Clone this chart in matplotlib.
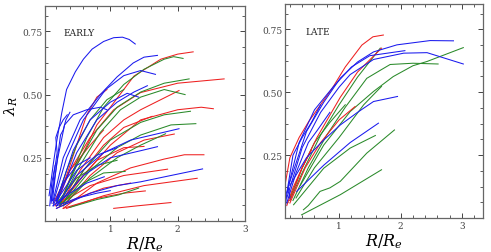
import matplotlib
matplotlib.use("Agg")
import matplotlib.pyplot as plt
from matplotlib.ticker import MultipleLocator

plt.rcParams['font.family'] = ['DejaVu Serif']
plt.rcParams['mathtext.fontset'] = 'dejavuserif'

# ---- EARLY panel: each curve is (R/Re list, lambda_R list) ----
early_blue = [
    ([0.09, 0.15, 0.20, 0.28, 0.35, 0.48, 0.60, 0.73, 0.90, 1.05, 1.18, 1.28, 1.37],
     [0.10, 0.22, 0.31, 0.43, 0.52, 0.59, 0.64, 0.68, 0.71, 0.725, 0.727, 0.718, 0.70]),
    ([0.15, 0.30, 0.55, 0.85, 1.10, 1.34, 1.50, 1.70], [0.08, 0.25, 0.40, 0.50, 0.57, 0.625, 0.648, 0.655]),
    ([0.15, 0.35, 0.60, 0.93, 1.20, 1.45, 1.67], [0.07, 0.25, 0.40, 0.52, 0.575, 0.595, 0.58]),
    ([0.20, 0.45, 0.70, 1.00, 1.25, 1.42], [0.08, 0.28, 0.40, 0.47, 0.505, 0.49]),
    ([0.20, 0.50, 0.80, 1.10, 1.35, 1.55], [0.07, 0.27, 0.40, 0.47, 0.51, 0.535]),
    ([0.12, 0.22, 0.32, 0.45, 0.65, 0.85, 0.95], [0.08, 0.25, 0.38, 0.42, 0.44, 0.45, 0.44]),
    ([0.12, 0.16, 0.21, 0.19, 0.24, 0.30, 0.36], [0.07, 0.18, 0.27, 0.33, 0.37, 0.40, 0.42]),
    ([0.14, 0.20, 0.26, 0.30, 0.34, 0.40], [0.08, 0.22, 0.34, 0.36, 0.40, 0.43]),
    ([0.20, 0.50, 0.90, 1.30, 1.70, 2.02], [0.06, 0.18, 0.27, 0.32, 0.345, 0.365]),
    ([0.20, 0.60, 1.00, 1.45, 1.70], [0.06, 0.18, 0.25, 0.278, 0.294]),
    ([0.20, 0.70, 1.10, 1.45, 1.90, 2.37], [0.05, 0.11, 0.14, 0.155, 0.18, 0.206]),
    ([0.15, 0.40, 0.65, 0.91], [0.06, 0.11, 0.15, 0.175]),
    ([0.20, 0.50, 0.80, 1.10], [0.08, 0.20, 0.26, 0.29]),
    ([0.15, 0.30, 0.50, 0.70], [0.06, 0.15, 0.22, 0.25]),
    ([0.10, 0.13, 0.18], [0.06, 0.15, 0.22]),
    ([0.20, 0.50, 0.80, 1.00], [0.06, 0.09, 0.11, 0.12]),
]
early_red = [
    ([0.25, 0.45, 0.60, 0.80, 1.00, 1.35, 1.75, 2.00, 2.23], [0.07, 0.20, 0.27, 0.38, 0.45, 0.573, 0.64, 0.66, 0.669]),
    ([0.20, 0.40, 0.70, 1.05, 1.45, 2.00, 2.69], [0.07, 0.20, 0.33, 0.44, 0.508, 0.545, 0.562]),
    ([0.25, 0.55, 0.90, 1.20, 1.45, 1.75, 2.02], [0.06, 0.20, 0.33, 0.40, 0.44, 0.48, 0.516]),
    ([0.25, 0.60, 1.00, 1.45, 2.00, 2.35, 2.53], [0.06, 0.18, 0.30, 0.40, 0.44, 0.45, 0.444]),
    ([0.30, 0.70, 1.10, 1.50, 1.95], [0.06, 0.18, 0.27, 0.32, 0.344]),
    ([0.30, 0.80, 1.30, 1.80, 2.10, 2.39], [0.05, 0.15, 0.21, 0.245, 0.262, 0.262]),
    ([0.25, 0.70, 1.20, 1.85], [0.07, 0.14, 0.18, 0.205]),
    ([0.35, 0.90, 1.50, 2.29], [0.05, 0.10, 0.14, 0.169]),
    ([0.30, 0.80, 1.20, 1.52], [0.05, 0.09, 0.11, 0.119]),
    ([1.05, 1.40, 1.90], [0.05, 0.06, 0.073]),
    ([0.30, 0.60, 0.90, 1.20, 1.62], [0.07, 0.20, 0.30, 0.37, 0.414]),
    ([0.18, 0.35, 0.50, 0.65, 0.80, 0.95], [0.06, 0.18, 0.30, 0.42, 0.49, 0.52]),
    ([0.20, 0.50, 0.80, 1.20, 1.50], [0.06, 0.15, 0.24, 0.29, 0.295]),
    ([0.15, 0.40, 0.70, 0.90], [0.07, 0.20, 0.30, 0.36]),
    ([0.20, 0.50, 0.90, 1.30], [0.05, 0.09, 0.13, 0.15]),
]
early_green = [
    ([0.25, 0.45, 0.65, 0.90, 1.20, 1.50, 1.80, 1.94, 2.08], [0.06, 0.20, 0.33, 0.45, 0.54, 0.60, 0.64, 0.65, 0.643]),
    ([0.25, 0.50, 0.80, 1.10, 1.45, 1.80, 2.17], [0.07, 0.22, 0.36, 0.45, 0.51, 0.545, 0.562]),
    ([0.25, 0.55, 0.85, 1.15, 1.45, 1.80, 2.11], [0.07, 0.22, 0.35, 0.44, 0.49, 0.52, 0.50]),
    ([0.30, 0.60, 1.00, 1.45, 1.80, 2.19], [0.07, 0.20, 0.32, 0.39, 0.42, 0.434]),
    ([0.30, 0.70, 1.10, 1.45, 1.90, 2.27], [0.07, 0.20, 0.29, 0.34, 0.38, 0.385]),
    ([0.30, 0.70, 1.10, 1.45, 1.82], [0.06, 0.17, 0.25, 0.30, 0.345]),
    ([0.25, 0.60, 0.90, 1.22], [0.06, 0.15, 0.19, 0.196]),
    ([0.40, 0.80, 1.12, 1.42], [0.054, 0.085, 0.103, 0.13]),
    ([0.20, 0.35, 0.50, 0.70, 0.95, 1.20], [0.08, 0.20, 0.30, 0.40, 0.48, 0.52]),
    ([0.20, 0.50, 0.80, 1.10], [0.07, 0.17, 0.22, 0.24]),
]

# ---- LATE panel ----
late_red = [
    ([0.12, 0.20, 0.35, 0.51, 0.89, 1.10, 1.37, 1.55, 1.72], [0.13, 0.24, 0.32, 0.385, 0.516, 0.60, 0.687, 0.72, 0.727]),
    ([0.20, 0.40, 0.64, 1.02, 1.30, 1.69], [0.07, 0.20, 0.32, 0.48, 0.58, 0.675]),
    ([0.20, 0.45, 0.70, 1.00, 1.26], [0.06, 0.20, 0.30, 0.39, 0.443]),
    ([0.15, 0.25, 0.40, 0.55], [0.05, 0.12, 0.20, 0.27]),
]
late_blue = [
    ([0.18, 0.47, 0.75, 1.02, 1.30, 1.56, 1.94, 2.48, 2.86], [0.13, 0.344, 0.46, 0.556, 0.62, 0.66, 0.688, 0.705, 0.704]),
    ([0.15, 0.40, 0.70, 1.00, 1.18, 1.56, 2.05, 2.43, 3.02], [0.08, 0.28, 0.42, 0.52, 0.57, 0.63, 0.655, 0.657, 0.612]),
    ([0.15, 0.35, 0.60, 0.90, 1.20, 1.50, 2.07], [0.10, 0.30, 0.43, 0.52, 0.60, 0.645, 0.665]),
    ([0.20, 0.47, 0.75, 1.02, 1.30, 1.56, 1.95], [0.13, 0.24, 0.31, 0.37, 0.42, 0.463, 0.483]),
    ([0.31, 0.75, 1.18, 1.64], [0.106, 0.21, 0.30, 0.377]),
    ([0.12, 0.13, 0.15, 0.18, 0.20], [0.0, 0.05, 0.10, 0.12, 0.08]),
    ([0.15, 0.25, 0.40, 0.55, 0.70], [0.10, 0.25, 0.32, 0.38, 0.45]),
    ([0.15, 0.30, 0.50, 0.65, 0.85], [0.06, 0.18, 0.30, 0.35, 0.42]),
]
late_green = [
    ([0.20, 0.40, 0.70, 1.00, 1.30, 1.67], [0.07, 0.18, 0.33, 0.45, 0.56, 0.675]),
    ([0.37, 0.75, 1.18, 1.56, 1.88, 2.20, 2.43, 3.02], [0.13, 0.29, 0.423, 0.503, 0.562, 0.605, 0.622, 0.677]),
    ([0.25, 0.50, 0.80, 1.10, 1.45, 1.67, 1.83, 2.20, 2.61], [0.07, 0.20, 0.33, 0.44, 0.555, 0.587, 0.61, 0.615, 0.612]),
    ([0.30, 0.60, 1.00, 1.40, 1.69], [0.08, 0.20, 0.32, 0.45, 0.523]),
    ([0.26, 0.75, 1.18, 1.59], [0.053, 0.198, 0.278, 0.328]),
    ([0.42, 0.50, 0.69, 0.85, 1.02, 1.45, 1.90], [0.033, 0.05, 0.106, 0.12, 0.146, 0.258, 0.35]),
    ([0.39, 1.02, 1.69], [0.013, 0.093, 0.192]),
    ([0.20, 0.40, 0.60, 0.85, 1.10], [0.08, 0.20, 0.30, 0.38, 0.45]),
]

yticks = [0.25, 0.50, 0.75]
xticks = [1, 2, 3]

c_blue = '#1a1aee'
c_red = '#ee2020'
c_green = '#2a8a2a'

fig = plt.figure(figsize=(4.91, 2.53), dpi=100)
ax1 = fig.add_axes([0.0917, 0.1225, 0.4073, 0.8495])
ax2 = fig.add_axes([0.5804, 0.134, 0.4033, 0.846])


def style(ax, xlim, label, lx, ly):
    ax.set_xlim(xlim)
    ax.set_ylim(0, 0.85)
    ax.set_xticks(xticks)
    ax.set_yticks(yticks)
    ax.set_yticklabels(['0.25', '0.50', '0.75'])
    ax.xaxis.set_minor_locator(MultipleLocator(0.2))
    ax.yaxis.set_minor_locator(MultipleLocator(0.0625))
    ax.tick_params(which='both', direction='in', top=True, right=True,
                   labelsize=6.5, colors='#444444', pad=2)
    ax.tick_params(which='major', length=3.5, width=0.7)
    ax.tick_params(which='minor', length=2, width=0.6)
    for s in ax.spines.values():
        s.set_color('#666666')
        s.set_linewidth(0.9)
    ax.set_xlabel(r'$R/R_e$', fontsize=11.5, labelpad=1)
    ax.text(lx, ly, label, fontsize=6.5, ha='left', va='center', color='#222222')


def draw(ax, curves, color):
    for xs, ys in curves:
        ax.plot(xs, ys, color=color, lw=0.75)


draw(ax1, early_red, c_red)
draw(ax1, early_green, c_green)
draw(ax1, early_blue, c_blue)
style(ax1, (0.03, 3.0), 'EARLY', 0.30, 0.746)
fig.text(11 / 491, 1 - 106 / 253, r'$\lambda_R$', fontsize=11,
         rotation=90, ha='center', va='center')

draw(ax2, late_green, c_green)
draw(ax2, late_red, c_red)
draw(ax2, late_blue, c_blue)
style(ax2, (0.12, 3.34), 'LATE', 0.45, 0.742)

fig.savefig('out.png', dpi=100)
